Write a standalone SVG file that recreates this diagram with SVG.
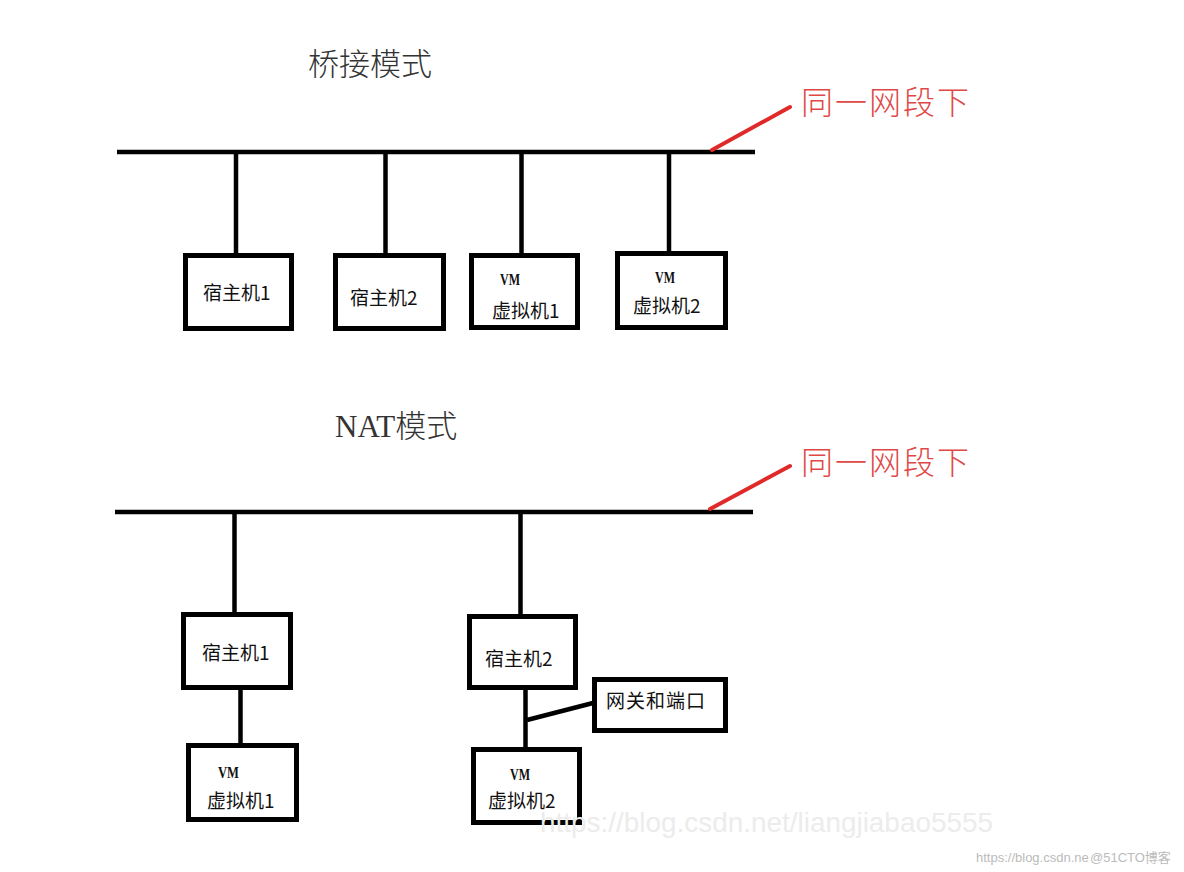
<svg xmlns="http://www.w3.org/2000/svg" width="1184" height="872" viewBox="0 0 1184 872">
  <style>
    .box { fill: #ffffff; stroke: #000000; stroke-width: 5; }
    .line { stroke: #000000; stroke-width: 4.5; fill: none; }
    .red { stroke: #e02a2a; stroke-width: 4; fill: none; stroke-linecap: round; }
    .lbl { font-family: "Noto Sans CJK SC", "Liberation Sans", sans-serif; font-size: 19px; fill: #111111; }
    .vm { font-family: "Liberation Serif", serif; font-weight: bold; font-size: 16px; fill: #111111; }
    .title { font-family: "Liberation Serif", "Noto Sans CJK SC", serif; font-size: 31px; fill: #333333; font-weight: 300; }
    .redtxt { font-family: "Noto Sans CJK SC", sans-serif; font-size: 32px; fill: #e04848; font-weight: 300; }
    .wm { font-family: "Liberation Sans", sans-serif; font-size: 28px; fill: #ececec; }
    .wm2 { font-family: "Liberation Sans", "Noto Sans CJK SC", sans-serif; font-size: 13px; fill: #bbbbbb; }
  </style>
  <rect width="1184" height="872" fill="#ffffff"/>

  <!-- Titles -->
  <g id="title-bridge"><text class="title" x="308" y="75" font-family="Noto Sans CJK SC, sans-serif">桥接模式</text></g>
  <g id="title-nat"><text class="title" x="335" y="437"><tspan>NAT</tspan><tspan font-family="Noto Sans CJK SC, sans-serif">模式</tspan></text></g>

  <!-- Connectors -->
  <g id="connectors">
    <line class="line" x1="117" y1="152" x2="755" y2="152"/>
    <line class="line" x1="236" y1="152" x2="236" y2="255"/>
    <line class="line" x1="385.5" y1="152" x2="385.5" y2="255"/>
    <line class="line" x1="521.5" y1="152" x2="521.5" y2="255"/>
    <line class="line" x1="669" y1="152" x2="669" y2="253"/>
    <line class="red" x1="712" y1="150" x2="790" y2="107"/>

    <line class="line" x1="115" y1="512" x2="753" y2="512"/>
    <line class="line" x1="234.5" y1="512" x2="234.5" y2="614"/>
    <line class="line" x1="520.5" y1="512" x2="520.5" y2="616"/>
    <line class="line" x1="240.5" y1="690" x2="240.5" y2="745"/>
    <line class="line" x1="525.5" y1="690" x2="525.5" y2="749"/>
    <line class="line" x1="527" y1="720" x2="593" y2="703"/>
    <line class="red" x1="710" y1="509" x2="790" y2="466"/>
  </g>

  <!-- Red labels -->
  <g id="label-same-segment-1"><text class="redtxt" x="801" y="114" letter-spacing="2">同一网段下</text></g>
  <g id="label-same-segment-2"><text class="redtxt" x="801" y="474" letter-spacing="2">同一网段下</text></g>

  <!-- Bridge mode nodes -->
  <g id="bridge-host1">
    <rect class="box" x="185.5" y="255.5" width="106" height="73"/>
    <text class="lbl" x="203" y="300">宿主机1</text>
  </g>
  <g id="bridge-host2">
    <rect class="box" x="335.5" y="255.5" width="108" height="73"/>
    <text class="lbl" x="350" y="305">宿主机2</text>
  </g>
  <g id="bridge-vm1">
    <rect class="box" x="471.5" y="255.5" width="106" height="72"/>
    <text class="vm" x="500" y="285" textLength="20" lengthAdjust="spacingAndGlyphs">VM</text>
    <text class="lbl" x="492" y="318">虚拟机1</text>
  </g>
  <g id="bridge-vm2">
    <rect class="box" x="617.5" y="253.5" width="108" height="74"/>
    <text class="vm" x="655" y="283" textLength="20" lengthAdjust="spacingAndGlyphs">VM</text>
    <text class="lbl" x="633" y="313">虚拟机2</text>
  </g>

  <!-- NAT mode nodes -->
  <g id="nat-host1">
    <rect class="box" x="183.5" y="614.5" width="107" height="73"/>
    <text class="lbl" x="202" y="660">宿主机1</text>
  </g>
  <g id="nat-vm1">
    <rect class="box" x="188.5" y="745.5" width="108" height="74"/>
    <text class="vm" x="218" y="778" textLength="21" lengthAdjust="spacingAndGlyphs">VM</text>
    <text class="lbl" x="207" y="808">虚拟机1</text>
  </g>
  <g id="nat-host2">
    <rect class="box" x="469.5" y="616.5" width="106" height="71"/>
    <text class="lbl" x="485" y="666">宿主机2</text>
  </g>
  <g id="nat-gateway">
    <rect class="box" x="594.5" y="679.5" width="131" height="51"/>
    <text class="lbl" x="606" y="708" font-size="22" letter-spacing="1">网关和端口</text>
  </g>
  <g id="nat-vm2">
    <rect class="box" x="473.5" y="749.5" width="106" height="73"/>
    <text class="vm" x="510" y="780" textLength="20" lengthAdjust="spacingAndGlyphs">VM</text>
    <text class="lbl" x="488" y="808">虚拟机2</text>
  </g>

  <!-- Watermarks -->
  <g id="watermark">
    <text class="wm" x="540" y="832" textLength="453" lengthAdjust="spacingAndGlyphs">https://blog.csdn.net/liangjiabao5555</text>
    <text class="wm2" x="976" y="862">https://blog.csdn.ne</text>
    <text class="wm2" x="1090" y="862" fill="#999999">@51CTO博客</text>
  </g>
</svg>
